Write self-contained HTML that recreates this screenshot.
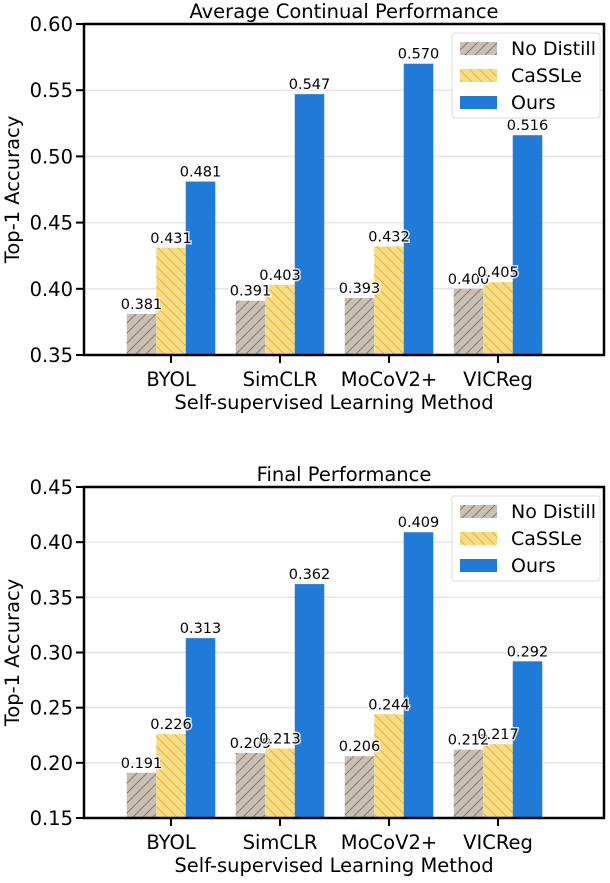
<!DOCTYPE html>
<html><head><meta charset="utf-8"><style>
body{margin:0;background:#fff;width:610px;height:878px;overflow:hidden}
svg{font-family:"DejaVu Sans","Liberation Sans",sans-serif}
</style></head><body>
<svg id="c" width="610" height="878">
<defs>
<pattern id="hg" width="10" height="10" patternUnits="userSpaceOnUse"><rect width="10" height="10" fill="#c9bfb2"/><path d="M-2,12 L12,-2 M-2,2 L2,-2 M8,12 L12,8" stroke="#857a6e" stroke-width="1"/></pattern>
<pattern id="hy" width="10" height="10" patternUnits="userSpaceOnUse"><rect width="10" height="10" fill="#f6dc8a"/><path d="M-2,-2 L12,12 M8,-2 L12,2 M-2,8 L2,12" stroke="#e8b722" stroke-width="1"/></pattern>
</defs>
</svg>
<script>
const categories=["BYOL","SimCLR","MoCoV2+","VICReg"];
const seriesNames=["No Distill","CaSSLe","Ours"];
const avgNoDistill=[0.381,0.391,0.393,0.400];
const avgCaSSLe=[0.431,0.403,0.432,0.405];
const avgOurs=[0.481,0.547,0.570,0.516];
const finNoDistill=[0.191,0.209,0.206,0.212];
const finCaSSLe=[0.226,0.213,0.244,0.217];
const finOurs=[0.313,0.362,0.409,0.292];
const avgTicks=[0.35,0.40,0.45,0.50,0.55,0.60];
const finTicks=[0.15,0.20,0.25,0.30,0.35,0.40,0.45];

const svg=document.getElementById('c');
const NS='http://www.w3.org/2000/svg';
function mk(tag,attrs,parent){const e=document.createElementNS(NS,tag);for(const k in attrs)e.setAttribute(k,attrs[k]);(parent||svg).appendChild(e);return e;}
const fills=["url(#hg)","url(#hy)","#1f7ad8"];

function panel(title,top,bottom,ticks,series,prefix){
  const L=84,R=604,ymin=ticks[0],ymax=ticks[ticks.length-1];
  const y=v=>bottom-(v-ymin)/(ymax-ymin)*(bottom-top);
  const x0=171,step=109,bw=29.5;
  const g=mk('g',{});
  
  
  ticks.forEach(t=>{
    if(t>ymin&&t<ymax){const l=mk('line',{x1:L,x2:R,y1:y(t),y2:y(t),stroke:'#e6e6e6','stroke-width':1.5},g);}
    const tk=mk('line',{x1:L-8,x2:L,y1:y(t),y2:y(t),stroke:'#000','stroke-width':2},g);
    
    const tx=mk('text',{x:L-11,y:y(t)+7,'text-anchor':'end','font-size':19.5},g);tx.textContent=t.toFixed(2);
    
  });
  series.forEach((s,si)=>{
    s.forEach((v,ci)=>{
      const bx=x0+ci*step+(si-1.5)*bw;
      const r=mk('rect',{x:bx,y:y(v),width:bw,height:bottom-y(v),fill:fills[si]},g);
      
      
    });
  });
  series.forEach((s,si)=>{
    s.forEach((v,ci)=>{
      const bx=x0+ci*step+(si-1.5)*bw;
      const t=mk('text',{x:bx+bw/2,y:y(v)-5,'text-anchor':'middle','font-size':14.5,stroke:'#fff','stroke-width':3,'stroke-opacity':0.8,'paint-order':'stroke'},g);
      t.textContent=v.toFixed(3);
      
    });
  });
  categories.forEach((c,ci)=>{
    const cx=x0+ci*step;
    const tk=mk('line',{x1:cx,x2:cx,y1:bottom,y2:bottom+8,stroke:'#000','stroke-width':2},g);
    
    const t=mk('text',{x:cx,y:bottom+31,'text-anchor':'middle','font-size':19.5},g);t.textContent=c;
    
  });
  const fr=mk('rect',{x:L,y:top,width:R-L,height:bottom-top,fill:'none',stroke:'#000','stroke-width':2.5},g);
  
  const tt=mk('text',{x:(L+R)/2,y:top-6,'text-anchor':'middle','font-size':19.5},g);tt.textContent=title;
  
  const xt=mk('text',{x:(L+R)/2-10,y:bottom+54,'text-anchor':'middle','font-size':19.5},g);xt.textContent='Self-supervised Learning Method';
  
  const yt=mk('text',{x:0,y:0,'text-anchor':'middle','font-size':19.5,transform:`translate(19,${(top+bottom)/2}) rotate(-90)`},g);yt.textContent='Top-1 Accuracy';
  
  const lg=mk('g',{},g);
  
  mk('rect',{x:452,y:top+9,width:148,height:85,rx:3,fill:'#fff','fill-opacity':0.85,stroke:'#ddd'},lg);
  seriesNames.forEach((n,i)=>{
    const yy=top+24+i*27;
    const sw=mk('rect',{x:460,y:yy-6,width:37,height:13,fill:fills[i]},lg);
    
    const t=mk('text',{x:511,y:yy+7,'font-size':19},lg);t.textContent=n;
    
  });
}
panel('Average Continual Performance',24,355,avgTicks,[avgNoDistill,avgCaSSLe,avgOurs],'average');
panel('Final Performance',487,818,finTicks,[finNoDistill,finCaSSLe,finOurs],'final');
</script>
</body></html>
